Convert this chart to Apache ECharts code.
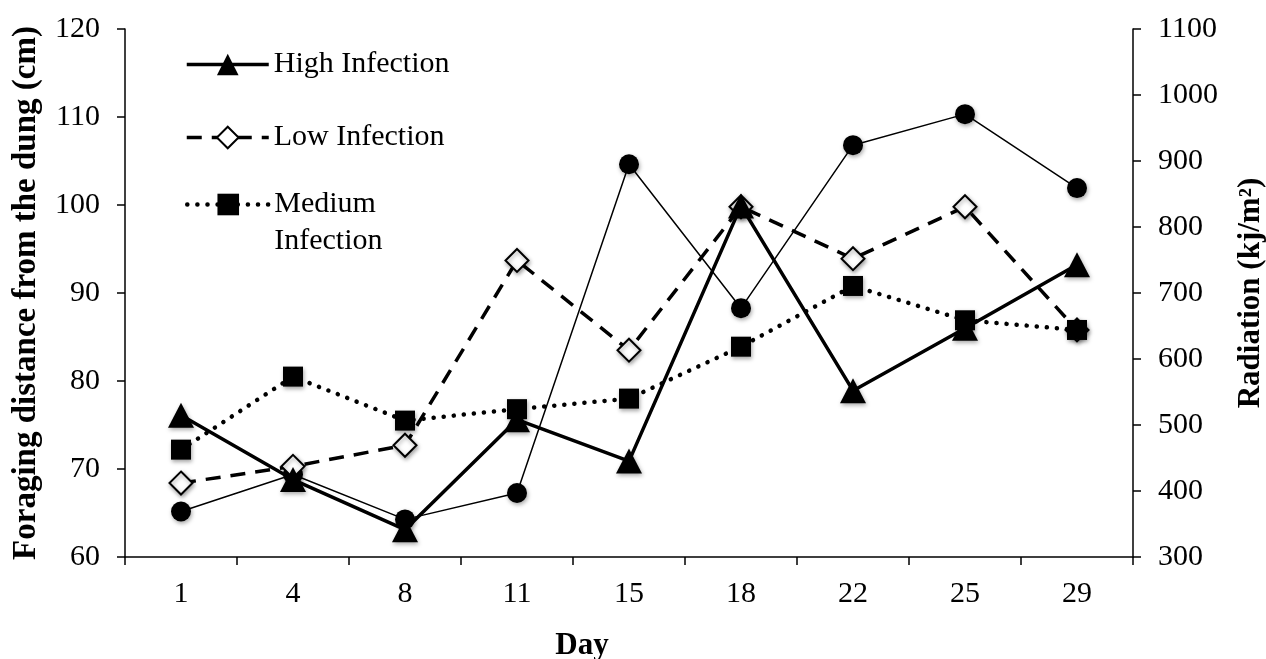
<!DOCTYPE html>
<html>
<head>
<meta charset="utf-8">
<script src="https://cdn.jsdelivr.net/npm/echarts@6/dist/echarts.min.js"></script>
<style>
html,body{margin:0;padding:0;background:#fff;overflow:hidden;}
#chart{width:1266px;height:659px;}
</style>
</head>
<body>
<div id="chart"></div>
<script>
// ---- data ----
var days = ['1', '4', '8', '11', '15', '18', '22', '25', '29'];
var highInfection = [76.1, 68.8, 63.1, 75.6, 70.9, 99.9, 78.9, 86.0, 93.2];
var lowInfection = [68.4, 70.3, 72.7, 93.7, 83.5, 99.8, 93.9, 99.8, 85.8];
var mediumInfection = [72.2, 80.5, 75.5, 76.8, 78.0, 83.9, 90.8, 86.9, 85.8];
var radiation = [369, 425, 357, 397, 895, 677, 924, 971, 859];

var FONT = 'Liberation Serif';
var shadow = {shadowBlur: 4, shadowColor: 'rgba(0,0,0,0.35)', shadowOffsetX: 1, shadowOffsetY: 2};

var chart = echarts.init(document.getElementById('chart'), null, {renderer: 'canvas'});

function legendCfg(name, top, lineStyle, fmt) {
  return {
    show: true,
    left: 185,
    top: top,
    padding: 0,
    orient: 'vertical',
    data: [name],
    itemWidth: 82,
    itemHeight: 27,
    selectedMode: false,
    formatter: fmt || '{name}',
    lineStyle: lineStyle,
    textStyle: {fontFamily: FONT, fontSize: 30, color: '#000', lineHeight: 37}
  };
}

var option = {
  backgroundColor: '#fff',
  animation: false,
  grid: {left: 125, right: 133, top: 29, bottom: 102, containLabel: false, outerBoundsMode: 'none'},
  legend: [
    legendCfg('High Infection', 46, {color: '#000', width: 3.5, type: 'solid'}),
    legendCfg('Low Infection', 119, {color: '#000', width: 3.5, type: [15, 10]}),
    legendCfg('Medium Infection', 149, {color: '#000', width: 4.5, type: [0.1, 10], cap: 'round'}, function () { return ' \nMedium\nInfection'; })
  ],
  xAxis: {
    type: 'category',
    data: days,
    boundaryGap: true,
    name: 'Day',
    nameLocation: 'middle',
    nameGap: 73,
    nameTextStyle: {fontFamily: FONT, fontSize: 31, fontWeight: 'bold', color: '#000', padding: [0, 94, 0, 0]},
    axisLine: {show: true, lineStyle: {color: '#000', width: 1.5}},
    axisTick: {show: true, inside: false, length: 8, alignWithLabel: false, lineStyle: {color: '#000', width: 1.5}},
    axisLabel: {fontFamily: FONT, fontSize: 30, color: '#000', margin: 22},
    splitLine: {show: false}
  },
  yAxis: [
    {
      type: 'value',
      position: 'left',
      min: 60, max: 120, interval: 10,
      name: 'Foraging distance from the dung (cm)',
      nameLocation: 'middle',
      nameGap: 82,
      nameTextStyle: {fontFamily: FONT, fontSize: 33, fontWeight: 'bold', color: '#000'},
      axisLine: {show: true, lineStyle: {color: '#000', width: 1.5}},
      axisTick: {show: true, inside: false, length: 8, lineStyle: {color: '#000', width: 1.5}},
      axisLabel: {fontFamily: FONT, fontSize: 30, color: '#000', margin: 25},
      splitLine: {show: false}
    },
    {
      type: 'value',
      position: 'right',
      min: 300, max: 1100, interval: 100,
      name: 'Radiation (kj/m\u00B2)',
      nameLocation: 'middle',
      nameGap: 102,
      nameTextStyle: {fontFamily: FONT, fontSize: 31, fontWeight: 'bold', color: '#000'},
      axisLine: {show: true, lineStyle: {color: '#000', width: 1.5}},
      axisTick: {show: true, inside: false, length: 8, lineStyle: {color: '#000', width: 1.5}},
      axisLabel: {fontFamily: FONT, fontSize: 30, color: '#000', margin: 25, formatter: function (v) { return String(v); }},
      splitLine: {show: false}
    }
  ],
  series: [
    {
      name: 'Radiation',
      type: 'line',
      yAxisIndex: 1,
      data: radiation,
      symbol: 'circle',
      symbolSize: 20,
      lineStyle: {color: '#000', width: 1.5},
      itemStyle: Object.assign({color: '#000'}, shadow),
      z: 2
    },
    {
      name: 'Low Infection',
      type: 'line',
      yAxisIndex: 0,
      data: lowInfection,
      symbol: 'diamond',
      symbolSize: 23,
      lineStyle: {color: '#000', width: 3.5, type: [15, 10]},
      itemStyle: Object.assign({color: '#fff', borderColor: '#000', borderWidth: 2}, shadow),
      z: 3
    },
    {
      name: 'High Infection',
      type: 'line',
      yAxisIndex: 0,
      data: highInfection,
      symbol: 'triangle',
      symbolSize: [26, 25],
      lineStyle: {color: '#000', width: 3.5},
      itemStyle: Object.assign({color: '#000'}, shadow),
      z: 4
    },
    {
      name: 'Medium Infection',
      type: 'line',
      yAxisIndex: 0,
      data: mediumInfection,
      symbol: 'rect',
      symbolSize: 20,
      lineStyle: {color: '#000', width: 4.5, type: [0.1, 10], cap: 'round'},
      itemStyle: Object.assign({color: '#000'}, shadow),
      z: 5
    }
  ]
};
chart.setOption(option);
</script>
</body>
</html>
